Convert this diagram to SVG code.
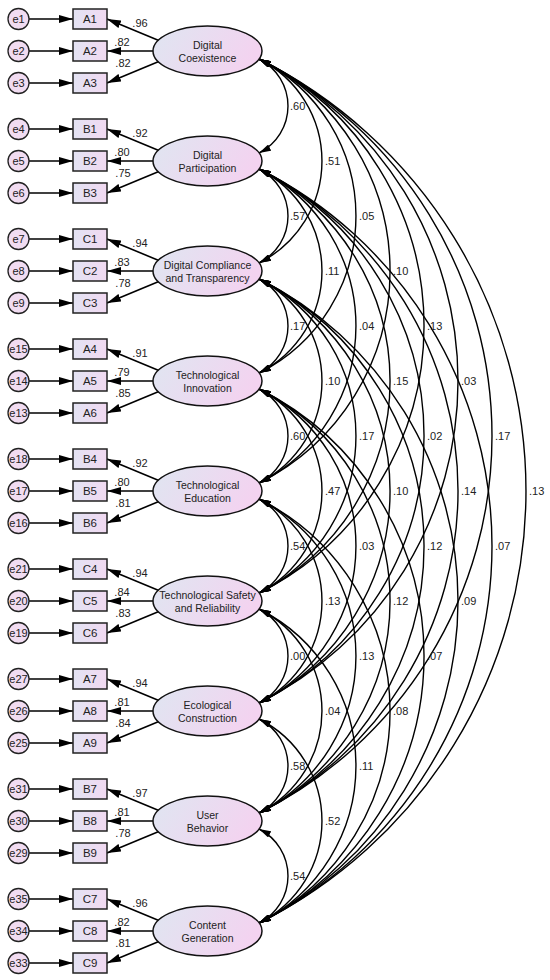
<svg xmlns="http://www.w3.org/2000/svg" width="550" height="980" viewBox="0 0 550 980">
<defs>
<linearGradient id="gEl" x1="0" y1="0" x2="1" y2="0.3">
<stop offset="0" stop-color="#dfe6f1"/>
<stop offset="1" stop-color="#f3d3f0"/>
</linearGradient>
<linearGradient id="gBox" x1="0" y1="0" x2="1" y2="0">
<stop offset="0" stop-color="#e3e3f3"/>
<stop offset="1" stop-color="#f1d9f1"/>
</linearGradient>
<marker id="ah" viewBox="0 0 14 8" refX="14" refY="4" markerWidth="14" markerHeight="8" markerUnits="userSpaceOnUse" orient="auto">
<path d="M0,0 L14,4 L0,8 z" fill="#000"/>
</marker>
<marker id="ca" viewBox="0 0 12 7" refX="12" refY="3.5" markerWidth="12" markerHeight="7" markerUnits="userSpaceOnUse" orient="auto-start-reverse">
<path d="M0,0 L12,3.5 L0,7 z" fill="#000"/>
</marker>
</defs>
<style>
text{font-family:"Liberation Sans",Arial,sans-serif;fill:#222;}
.lat{fill:url(#gEl);stroke:#111;stroke-width:1.5;}
.box{fill:url(#gBox);stroke:#222;stroke-width:1.5;}
.err{fill:#f1dcf1;stroke:#222;stroke-width:1.3;}
.ln{stroke:#000;stroke-width:1.6;fill:none;marker-end:url(#ah);}
.arc{stroke:#000;stroke-width:1.4;fill:none;marker-start:url(#ca);marker-end:url(#ca);}
.nt{font-size:10.5px;text-anchor:middle;}
.bt{font-size:11.5px;text-anchor:middle;}
.et{font-size:11px;text-anchor:middle;}
.lb{font-size:11px;}
.ll{font-size:11px;text-anchor:middle;}
</style>
<g id="connectors">
<path class="ln" d="M29,19 L73,19"/><path class="ln" d="M29,51 L73,51"/><path class="ln" d="M29,83 L73,83"/>
<path class="ln" d="M29,129 L73,129"/><path class="ln" d="M29,161 L73,161"/><path class="ln" d="M29,193 L73,193"/>
<path class="ln" d="M29,239 L73,239"/><path class="ln" d="M29,271 L73,271"/><path class="ln" d="M29,303 L73,303"/>
<path class="ln" d="M29,349 L73,349"/><path class="ln" d="M29,381 L73,381"/><path class="ln" d="M29,413 L73,413"/>
<path class="ln" d="M29,459 L73,459"/><path class="ln" d="M29,491 L73,491"/><path class="ln" d="M29,523 L73,523"/>
<path class="ln" d="M29,569 L73,569"/><path class="ln" d="M29,601 L73,601"/><path class="ln" d="M29,633 L73,633"/>
<path class="ln" d="M29,679 L73,679"/><path class="ln" d="M29,711 L73,711"/><path class="ln" d="M29,743 L73,743"/>
<path class="ln" d="M29,789 L73,789"/><path class="ln" d="M29,821 L73,821"/><path class="ln" d="M29,853 L73,853"/>
<path class="ln" d="M29,899 L73,899"/><path class="ln" d="M29,931 L73,931"/><path class="ln" d="M29,963 L73,963"/>
<path class="ln" d="M160,41 L107,19"/><path class="ln" d="M160,51 L107,51"/><path class="ln" d="M160,61 L107,83"/>
<path class="ln" d="M160,151 L107,129"/><path class="ln" d="M160,161 L107,161"/><path class="ln" d="M160,171 L107,193"/>
<path class="ln" d="M160,261 L107,239"/><path class="ln" d="M160,271 L107,271"/><path class="ln" d="M160,281 L107,303"/>
<path class="ln" d="M160,371 L107,349"/><path class="ln" d="M160,381 L107,381"/><path class="ln" d="M160,391 L107,413"/>
<path class="ln" d="M160,481 L107,459"/><path class="ln" d="M160,491 L107,491"/><path class="ln" d="M160,501 L107,523"/>
<path class="ln" d="M160,591 L107,569"/><path class="ln" d="M160,601 L107,601"/><path class="ln" d="M160,611 L107,633"/>
<path class="ln" d="M160,701 L107,679"/><path class="ln" d="M160,711 L107,711"/><path class="ln" d="M160,721 L107,743"/>
<path class="ln" d="M160,811 L107,789"/><path class="ln" d="M160,821 L107,821"/><path class="ln" d="M160,831 L107,853"/>
<path class="ln" d="M160,921 L107,899"/><path class="ln" d="M160,931 L107,931"/><path class="ln" d="M160,941 L107,963"/>
<!-- covariances k=1 -->
<path class="arc" d="M259,59 A52.6,52.6 0 0 1 259,153"/>
<path class="arc" d="M259,169 A52.6,52.6 0 0 1 259,263"/>
<path class="arc" d="M259,279 A52.6,52.6 0 0 1 259,373"/>
<path class="arc" d="M259,389 A52.6,52.6 0 0 1 259,483"/>
<path class="arc" d="M259,499 A52.6,52.6 0 0 1 259,593"/>
<path class="arc" d="M259,609 A52.6,52.6 0 0 1 259,703"/>
<path class="arc" d="M259,719 A52.6,52.6 0 0 1 259,813"/>
<path class="arc" d="M259,829 A52.6,52.6 0 0 1 259,923"/>
<!-- k=2 -->
<path class="arc" d="M259,59 A114.1,114.1 0 0 1 259,263"/>
<path class="arc" d="M259,169 A114.1,114.1 0 0 1 259,373"/>
<path class="arc" d="M259,279 A114.1,114.1 0 0 1 259,483"/>
<path class="arc" d="M259,389 A114.1,114.1 0 0 1 259,593"/>
<path class="arc" d="M259,499 A114.1,114.1 0 0 1 259,703"/>
<path class="arc" d="M259,609 A114.1,114.1 0 0 1 259,813"/>
<path class="arc" d="M259,719 A114.1,114.1 0 0 1 259,923"/>
<!-- k=3 -->
<path class="arc" d="M259,59 A175.6,175.6 0 0 1 259,373"/>
<path class="arc" d="M259,169 A175.6,175.6 0 0 1 259,483"/>
<path class="arc" d="M259,279 A175.6,175.6 0 0 1 259,593"/>
<path class="arc" d="M259,389 A175.6,175.6 0 0 1 259,703"/>
<path class="arc" d="M259,499 A175.6,175.6 0 0 1 259,813"/>
<path class="arc" d="M259,609 A175.6,175.6 0 0 1 259,923"/>
<!-- k=4 -->
<path class="arc" d="M259,59 A237,237 0 0 1 259,483"/>
<path class="arc" d="M259,169 A237,237 0 0 1 259,593"/>
<path class="arc" d="M259,279 A237,237 0 0 1 259,703"/>
<path class="arc" d="M259,389 A237,237 0 0 1 259,813"/>
<path class="arc" d="M259,499 A237,237 0 0 1 259,923"/>
<!-- k=5 -->
<path class="arc" d="M259,59 A298.5,298.5 0 0 1 259,593"/>
<path class="arc" d="M259,169 A298.5,298.5 0 0 1 259,703"/>
<path class="arc" d="M259,279 A298.5,298.5 0 0 1 259,813"/>
<path class="arc" d="M259,389 A298.5,298.5 0 0 1 259,923"/>
<!-- k=6 -->
<path class="arc" d="M259,59 A360,360 0 0 1 259,703"/>
<path class="arc" d="M259,169 A360,360 0 0 1 259,813"/>
<path class="arc" d="M259,279 A360,360 0 0 1 259,923"/>
<!-- k=7 -->
<path class="arc" d="M259,59 A421.5,421.5 0 0 1 259,813"/>
<path class="arc" d="M259,169 A421.5,421.5 0 0 1 259,923"/>
<!-- k=8 -->
<path class="arc" d="M259,59 A483,483 0 0 1 259,923"/>
</g>
<g id="covariance-labels">
<text class="lb" x="290" y="110">.60</text><text class="lb" x="290" y="220">.57</text><text class="lb" x="290" y="330">.17</text><text class="lb" x="290" y="440">.60</text><text class="lb" x="290" y="550">.54</text><text class="lb" x="290" y="660">.00</text><text class="lb" x="290" y="770">.58</text><text class="lb" x="290" y="880">.54</text>
<text class="lb" x="325" y="165">.51</text><text class="lb" x="325" y="275">.11</text><text class="lb" x="325" y="385">.10</text><text class="lb" x="325" y="495">.47</text><text class="lb" x="325" y="605">.13</text><text class="lb" x="325" y="715">.04</text><text class="lb" x="325" y="825">.52</text>
<text class="lb" x="359" y="220">.05</text><text class="lb" x="359" y="330">.04</text><text class="lb" x="359" y="440">.17</text><text class="lb" x="359" y="550">.03</text><text class="lb" x="359" y="660">.13</text><text class="lb" x="359" y="770">.11</text>
<text class="lb" x="393" y="275">.10</text><text class="lb" x="393" y="385">.15</text><text class="lb" x="393" y="495">.10</text><text class="lb" x="393" y="605">.12</text><text class="lb" x="393" y="715">.08</text>
<text class="lb" x="427" y="330">.13</text><text class="lb" x="427" y="440">.02</text><text class="lb" x="427" y="550">.12</text><text class="lb" x="427" y="660">.07</text>
<text class="lb" x="461" y="385">.03</text><text class="lb" x="461" y="495">.14</text><text class="lb" x="461" y="605">.09</text>
<text class="lb" x="495" y="440">.17</text><text class="lb" x="495" y="550">.07</text>
<text class="lb" x="529" y="495">.13</text>
</g>
<g id="loading-labels">
<text class="ll" x="140" y="27">.96</text><text class="ll" x="122" y="46">.82</text><text class="ll" x="123" y="67">.82</text>
<text class="ll" x="140" y="137">.92</text><text class="ll" x="122" y="156">.80</text><text class="ll" x="123" y="177">.75</text>
<text class="ll" x="140" y="247">.94</text><text class="ll" x="122" y="266">.83</text><text class="ll" x="123" y="287">.78</text>
<text class="ll" x="140" y="357">.91</text><text class="ll" x="122" y="376">.79</text><text class="ll" x="123" y="397">.85</text>
<text class="ll" x="140" y="467">.92</text><text class="ll" x="122" y="486">.80</text><text class="ll" x="123" y="507">.81</text>
<text class="ll" x="140" y="577">.94</text><text class="ll" x="122" y="596">.84</text><text class="ll" x="123" y="617">.83</text>
<text class="ll" x="140" y="687">.94</text><text class="ll" x="122" y="706">.81</text><text class="ll" x="123" y="727">.84</text>
<text class="ll" x="140" y="797">.97</text><text class="ll" x="122" y="816">.81</text><text class="ll" x="123" y="837">.78</text>
<text class="ll" x="140" y="907">.96</text><text class="ll" x="122" y="926">.82</text><text class="ll" x="123" y="947">.81</text>
</g>
<!-- latent factors -->
<g id="f1"><ellipse class="lat" cx="207.5" cy="51" rx="54.5" ry="25"/><text class="nt" x="207.5" y="49">Digital</text><text class="nt" x="207.5" y="62">Coexistence</text></g>
<g id="f2"><ellipse class="lat" cx="207.5" cy="161" rx="54.5" ry="25"/><text class="nt" x="207.5" y="159">Digital</text><text class="nt" x="207.5" y="172">Participation</text></g>
<g id="f3"><ellipse class="lat" cx="207.5" cy="271" rx="54.5" ry="25"/><text class="nt" x="207.5" y="269">Digital Compliance</text><text class="nt" x="207.5" y="282">and Transparency</text></g>
<g id="f4"><ellipse class="lat" cx="207.5" cy="381" rx="54.5" ry="25"/><text class="nt" x="207.5" y="379">Technological</text><text class="nt" x="207.5" y="392">Innovation</text></g>
<g id="f5"><ellipse class="lat" cx="207.5" cy="491" rx="54.5" ry="25"/><text class="nt" x="207.5" y="489">Technological</text><text class="nt" x="207.5" y="502">Education</text></g>
<g id="f6"><ellipse class="lat" cx="207.5" cy="601" rx="54.5" ry="25"/><text class="nt" x="207.5" y="599">Technological Safety</text><text class="nt" x="207.5" y="612">and Reliability</text></g>
<g id="f7"><ellipse class="lat" cx="207.5" cy="711" rx="54.5" ry="25"/><text class="nt" x="207.5" y="709">Ecological</text><text class="nt" x="207.5" y="722">Construction</text></g>
<g id="f8"><ellipse class="lat" cx="207.5" cy="821" rx="54.5" ry="25"/><text class="nt" x="207.5" y="819">User</text><text class="nt" x="207.5" y="832">Behavior</text></g>
<g id="f9"><ellipse class="lat" cx="207.5" cy="931" rx="54.5" ry="25"/><text class="nt" x="207.5" y="929">Content</text><text class="nt" x="207.5" y="942">Generation</text></g>
<!-- indicators -->
<g id="A1"><rect class="box" x="73" y="9" width="34" height="20"/><text class="bt" x="90" y="23">A1</text></g>
<g id="A2"><rect class="box" x="73" y="41" width="34" height="20"/><text class="bt" x="90" y="55">A2</text></g>
<g id="A3"><rect class="box" x="73" y="73" width="34" height="20"/><text class="bt" x="90" y="87">A3</text></g>
<g id="B1"><rect class="box" x="73" y="119" width="34" height="20"/><text class="bt" x="90" y="133">B1</text></g>
<g id="B2"><rect class="box" x="73" y="151" width="34" height="20"/><text class="bt" x="90" y="165">B2</text></g>
<g id="B3"><rect class="box" x="73" y="183" width="34" height="20"/><text class="bt" x="90" y="197">B3</text></g>
<g id="C1"><rect class="box" x="73" y="229" width="34" height="20"/><text class="bt" x="90" y="243">C1</text></g>
<g id="C2"><rect class="box" x="73" y="261" width="34" height="20"/><text class="bt" x="90" y="275">C2</text></g>
<g id="C3"><rect class="box" x="73" y="293" width="34" height="20"/><text class="bt" x="90" y="307">C3</text></g>
<g id="A4"><rect class="box" x="73" y="339" width="34" height="20"/><text class="bt" x="90" y="353">A4</text></g>
<g id="A5"><rect class="box" x="73" y="371" width="34" height="20"/><text class="bt" x="90" y="385">A5</text></g>
<g id="A6"><rect class="box" x="73" y="403" width="34" height="20"/><text class="bt" x="90" y="417">A6</text></g>
<g id="B4"><rect class="box" x="73" y="449" width="34" height="20"/><text class="bt" x="90" y="463">B4</text></g>
<g id="B5"><rect class="box" x="73" y="481" width="34" height="20"/><text class="bt" x="90" y="495">B5</text></g>
<g id="B6"><rect class="box" x="73" y="513" width="34" height="20"/><text class="bt" x="90" y="527">B6</text></g>
<g id="C4"><rect class="box" x="73" y="559" width="34" height="20"/><text class="bt" x="90" y="573">C4</text></g>
<g id="C5"><rect class="box" x="73" y="591" width="34" height="20"/><text class="bt" x="90" y="605">C5</text></g>
<g id="C6"><rect class="box" x="73" y="623" width="34" height="20"/><text class="bt" x="90" y="637">C6</text></g>
<g id="A7"><rect class="box" x="73" y="669" width="34" height="20"/><text class="bt" x="90" y="683">A7</text></g>
<g id="A8"><rect class="box" x="73" y="701" width="34" height="20"/><text class="bt" x="90" y="715">A8</text></g>
<g id="A9"><rect class="box" x="73" y="733" width="34" height="20"/><text class="bt" x="90" y="747">A9</text></g>
<g id="B7"><rect class="box" x="73" y="779" width="34" height="20"/><text class="bt" x="90" y="793">B7</text></g>
<g id="B8"><rect class="box" x="73" y="811" width="34" height="20"/><text class="bt" x="90" y="825">B8</text></g>
<g id="B9"><rect class="box" x="73" y="843" width="34" height="20"/><text class="bt" x="90" y="857">B9</text></g>
<g id="C7"><rect class="box" x="73" y="889" width="34" height="20"/><text class="bt" x="90" y="903">C7</text></g>
<g id="C8"><rect class="box" x="73" y="921" width="34" height="20"/><text class="bt" x="90" y="935">C8</text></g>
<g id="C9"><rect class="box" x="73" y="953" width="34" height="20"/><text class="bt" x="90" y="967">C9</text></g>
<!-- errors -->
<g id="e1"><circle class="err" cx="18.5" cy="19" r="10.5"/><text class="et" x="18.5" y="23">e1</text></g>
<g id="e2"><circle class="err" cx="18.5" cy="51" r="10.5"/><text class="et" x="18.5" y="55">e2</text></g>
<g id="e3"><circle class="err" cx="18.5" cy="83" r="10.5"/><text class="et" x="18.5" y="87">e3</text></g>
<g id="e4"><circle class="err" cx="18.5" cy="129" r="10.5"/><text class="et" x="18.5" y="133">e4</text></g>
<g id="e5"><circle class="err" cx="18.5" cy="161" r="10.5"/><text class="et" x="18.5" y="165">e5</text></g>
<g id="e6"><circle class="err" cx="18.5" cy="193" r="10.5"/><text class="et" x="18.5" y="197">e6</text></g>
<g id="e7"><circle class="err" cx="18.5" cy="239" r="10.5"/><text class="et" x="18.5" y="243">e7</text></g>
<g id="e8"><circle class="err" cx="18.5" cy="271" r="10.5"/><text class="et" x="18.5" y="275">e8</text></g>
<g id="e9"><circle class="err" cx="18.5" cy="303" r="10.5"/><text class="et" x="18.5" y="307">e9</text></g>
<g id="e15"><circle class="err" cx="18.5" cy="349" r="10.5"/><text class="et" x="18.5" y="353">e15</text></g>
<g id="e14"><circle class="err" cx="18.5" cy="381" r="10.5"/><text class="et" x="18.5" y="385">e14</text></g>
<g id="e13"><circle class="err" cx="18.5" cy="413" r="10.5"/><text class="et" x="18.5" y="417">e13</text></g>
<g id="e18"><circle class="err" cx="18.5" cy="459" r="10.5"/><text class="et" x="18.5" y="463">e18</text></g>
<g id="e17"><circle class="err" cx="18.5" cy="491" r="10.5"/><text class="et" x="18.5" y="495">e17</text></g>
<g id="e16"><circle class="err" cx="18.5" cy="523" r="10.5"/><text class="et" x="18.5" y="527">e16</text></g>
<g id="e21"><circle class="err" cx="18.5" cy="569" r="10.5"/><text class="et" x="18.5" y="573">e21</text></g>
<g id="e20"><circle class="err" cx="18.5" cy="601" r="10.5"/><text class="et" x="18.5" y="605">e20</text></g>
<g id="e19"><circle class="err" cx="18.5" cy="633" r="10.5"/><text class="et" x="18.5" y="637">e19</text></g>
<g id="e27"><circle class="err" cx="18.5" cy="679" r="10.5"/><text class="et" x="18.5" y="683">e27</text></g>
<g id="e26"><circle class="err" cx="18.5" cy="711" r="10.5"/><text class="et" x="18.5" y="715">e26</text></g>
<g id="e25"><circle class="err" cx="18.5" cy="743" r="10.5"/><text class="et" x="18.5" y="747">e25</text></g>
<g id="e31"><circle class="err" cx="18.5" cy="789" r="10.5"/><text class="et" x="18.5" y="793">e31</text></g>
<g id="e30"><circle class="err" cx="18.5" cy="821" r="10.5"/><text class="et" x="18.5" y="825">e30</text></g>
<g id="e29"><circle class="err" cx="18.5" cy="853" r="10.5"/><text class="et" x="18.5" y="857">e29</text></g>
<g id="e35"><circle class="err" cx="18.5" cy="899" r="10.5"/><text class="et" x="18.5" y="903">e35</text></g>
<g id="e34"><circle class="err" cx="18.5" cy="931" r="10.5"/><text class="et" x="18.5" y="935">e34</text></g>
<g id="e33"><circle class="err" cx="18.5" cy="963" r="10.5"/><text class="et" x="18.5" y="967">e33</text></g>
</svg>
